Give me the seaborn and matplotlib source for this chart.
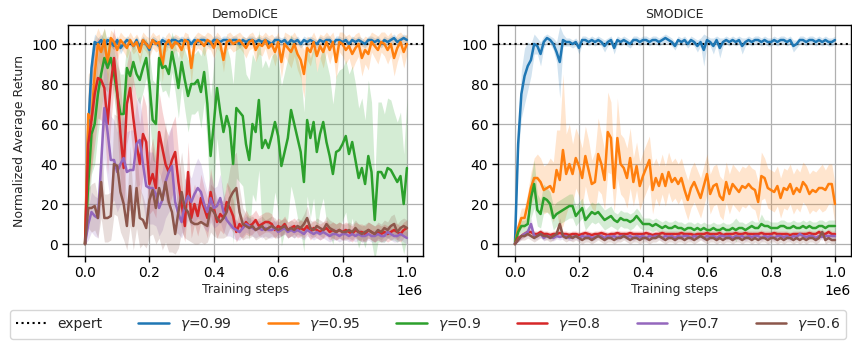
import numpy as np
import pandas as pd
import matplotlib
matplotlib.use("Agg")
import matplotlib.pyplot as plt
import seaborn as sns

# ---------------- data ----------------
steps = np.arange(0, 1_000_001, 10_000)
titles = ["DemoDICE", "SMODICE"]
gammas = ["0.99", "0.95", "0.9", "0.8", "0.7", "0.6"]
expert_level = 100

# DemoDICE means / spreads
demo_g099 = [
    0, 58, 88, 101, 100, 102, 99, 102, 101, 99,
    102, 98, 100, 102, 101, 99, 102, 98, 102, 100,
    97, 102, 101, 99, 102, 101, 100, 102, 102, 101,
    102, 101, 102, 100, 102, 101, 102, 102, 101, 100,
    102, 102, 101, 102, 102, 101, 102, 102, 100, 102,
    101, 102, 102, 101, 102, 101, 102, 101, 100, 102,
    102, 101, 102, 100, 102, 101, 102, 100, 102, 101,
    102, 101, 100, 102, 101, 102, 102, 100, 102, 102,
    101, 102, 100, 102, 101, 102, 101, 100, 102, 102,
    101, 102, 100, 102, 101, 102, 103, 101, 102, 103, 102]
demo_g099_sd = [
    0, 15, 10, 4, 3, 3, 3, 2, 2, 2,
    2, 3, 2, 2, 2, 2, 2, 3, 2, 2,
    3, 2, 2, 2, 2, 2, 2, 2, 2, 2,
    2, 2, 2, 2, 2, 2, 2, 2, 2, 2,
    2, 2, 2, 2, 2, 2, 2, 2, 2, 2,
    2, 2, 2, 2, 2, 2, 2, 2, 2, 2,
    2, 2, 2, 2, 2, 2, 2, 2, 2, 2,
    2, 2, 2, 2, 2, 2, 2, 2, 2, 2,
    2, 2, 2, 2, 2, 2, 2, 2, 2, 2,
    2, 2, 2, 2, 2, 2, 2, 2, 2, 2, 2]
demo_g095 = [
    0, 65, 62, 85, 100, 96, 102, 90, 103, 101,
    97, 102, 100, 98, 102, 99, 101, 96, 102, 100,
    98, 102, 100, 101, 89, 100, 102, 98, 101, 100,
    97, 102, 101, 88, 100, 102, 101, 99, 102, 101,
    98, 102, 100, 92, 101, 102, 100, 101, 102, 100,
    98, 101, 102, 97, 100, 99, 102, 98, 100, 96,
    101, 91, 100, 98, 96, 100, 95, 92, 85, 98,
    96, 101, 94, 99, 96, 101, 97, 101, 91, 101,
    100, 97, 99, 95, 98, 100, 93, 97, 95, 101,
    99, 97, 101, 100, 97, 100, 93, 98, 101, 96, 100]
demo_g095_sd = [
    0, 20, 25, 18, 8, 8, 6, 10, 4, 4,
    5, 4, 4, 5, 4, 4, 4, 6, 4, 4,
    5, 4, 4, 4, 8, 4, 4, 5, 4, 4,
    5, 4, 4, 8, 4, 4, 4, 5, 4, 4,
    5, 4, 4, 6, 4, 4, 4, 4, 4, 4,
    5, 4, 4, 6, 5, 5, 4, 6, 5, 7,
    5, 8, 6, 7, 8, 6, 8, 9, 12, 6,
    7, 5, 8, 6, 8, 5, 7, 5, 9, 5,
    6, 7, 6, 8, 7, 6, 9, 7, 8, 5,
    6, 7, 5, 6, 7, 6, 9, 7, 5, 8, 5]
demo_g090 = [
    0, 30, 55, 60, 75, 85, 93, 88, 93, 85,
    75, 65, 65, 88, 84, 91, 85, 82, 88, 93,
    80, 62, 60, 93, 88, 89, 85, 96, 88, 78,
    91, 82, 74, 80, 80, 82, 76, 86, 70, 44,
    60, 78, 66, 56, 64, 58, 40, 68, 66, 64,
    50, 42, 60, 56, 72, 48, 52, 48, 54, 61,
    54, 39, 46, 53, 67, 60, 53, 46, 31, 62,
    53, 61, 46, 55, 61, 51, 44, 35, 46, 47,
    50, 54, 45, 51, 42, 33, 38, 30, 44, 36,
    12, 36, 36, 33, 38, 37, 34, 31, 34, 20, 38]
demo_g090_sd = [
    0, 15, 20, 20, 20, 18, 15, 12, 10, 12,
    15, 20, 20, 12, 12, 10, 12, 12, 12, 10,
    15, 20, 20, 10, 12, 12, 12, 10, 12, 15,
    12, 15, 18, 15, 15, 15, 18, 15, 20, 30,
    30, 25, 30, 35, 35, 35, 40, 35, 35, 35,
    35, 40, 35, 35, 35, 40, 40, 40, 40, 35,
    38, 40, 40, 40, 38, 38, 40, 40, 35, 38,
    40, 38, 40, 38, 38, 40, 40, 35, 38, 40,
    38, 38, 40, 38, 38, 35, 35, 32, 38, 35,
    20, 35, 35, 32, 35, 35, 32, 30, 32, 25, 35]
demo_g080 = [
    0, 50, 62, 75, 83, 82, 78, 60, 80, 93,
    76, 55, 38, 70, 78, 63, 50, 40, 55, 51,
    30, 35, 28, 56, 48, 40, 36, 42, 46, 31,
    20, 9, 36, 13, 20, 14, 23, 18, 13, 26,
    18, 11, 15, 13, 21, 18, 14, 6, 10, 8,
    11, 9, 10, 12, 9, 10, 11, 11, 10, 7,
    9, 8, 10, 7, 8, 9, 7, 8, 7, 9,
    6, 8, 7, 6, 7, 8, 6, 7, 6, 7,
    6, 7, 6, 5, 7, 6, 6, 5, 7, 6,
    5, 6, 5, 6, 5, 6, 7, 6, 5, 7, 8]
demo_g080_sd = [
    0, 25, 25, 25, 20, 20, 22, 25, 20, 15,
    20, 25, 22, 20, 20, 20, 22, 20, 20, 18,
    15, 18, 15, 20, 18, 18, 18, 18, 18, 15,
    12, 8, 15, 10, 10, 10, 12, 10, 10, 12,
    10, 8, 8, 8, 10, 10, 8, 5, 6, 5,
    6, 5, 5, 5, 5, 5, 5, 5, 5, 4,
    4, 4, 4, 4, 4, 4, 4, 4, 4, 4,
    4, 4, 4, 4, 4, 4, 4, 4, 4, 4,
    4, 4, 4, 4, 4, 4, 4, 4, 4, 4,
    4, 4, 4, 4, 4, 4, 4, 4, 4, 4, 4]
demo_g070 = [
    0, 10, 16, 14, 13, 40, 68, 56, 42, 42,
    36, 40, 43, 36, 37, 37, 50, 52, 40, 29,
    28, 28, 25, 18, 22, 31, 36, 39, 21, 15,
    11, 20, 24, 21, 25, 28, 26, 20, 16, 23,
    18, 19, 23, 16, 12, 10, 8, 7, 6, 8,
    10, 9, 8, 7, 8, 7, 8, 7, 7, 8,
    6, 7, 8, 6, 7, 6, 7, 6, 5, 7,
    6, 5, 6, 5, 6, 5, 4, 5, 5, 4,
    5, 5, 4, 5, 4, 5, 4, 4, 5, 4,
    4, 5, 4, 4, 6, 5, 4, 4, 5, 4, 3]
demo_g070_sd = [
    0, 8, 10, 10, 10, 20, 25, 25, 22, 20,
    20, 20, 22, 20, 20, 20, 22, 22, 20, 18,
    18, 18, 16, 14, 15, 18, 20, 20, 15, 10,
    8, 12, 12, 12, 14, 15, 14, 12, 10, 12,
    10, 10, 12, 10, 8, 6, 5, 5, 4, 4,
    4, 4, 4, 4, 4, 4, 4, 4, 4, 4,
    3, 3, 3, 3, 3, 3, 3, 3, 3, 3,
    3, 3, 3, 3, 3, 3, 3, 3, 3, 3,
    3, 3, 3, 3, 3, 3, 3, 3, 3, 3,
    3, 3, 3, 3, 3, 3, 3, 3, 3, 3, 3]
demo_g060 = [
    0, 18, 18, 19, 13, 31, 13, 13, 14, 40,
    39, 26, 20, 9, 29, 9, 28, 13, 12, 8,
    22, 27, 18, 28, 22, 31, 21, 16, 5, 16,
    26, 18, 16, 11, 10, 10, 11, 10, 9, 18,
    16, 13, 11, 13, 16, 23, 26, 28, 16, 10,
    9, 8, 9, 7, 8, 9, 7, 8, 9, 8,
    7, 8, 9, 7, 8, 7, 9, 8, 10, 13,
    8, 7, 9, 8, 7, 10, 8, 7, 6, 7,
    6, 6, 7, 6, 8, 6, 5, 6, 7, 6,
    5, 7, 6, 8, 7, 9, 10, 6, 8, 9, 8]
demo_g060_sd = [
    0, 10, 12, 12, 10, 18, 12, 12, 12, 25,
    25, 20, 18, 12, 20, 12, 20, 15, 12, 10,
    18, 22, 18, 25, 25, 30, 25, 20, 10, 18,
    20, 15, 14, 10, 10, 10, 10, 10, 8, 12,
    12, 10, 8, 10, 12, 15, 18, 18, 12, 8,
    6, 5, 5, 5, 5, 5, 5, 5, 5, 5,
    4, 4, 4, 4, 4, 4, 4, 4, 5, 6,
    4, 4, 4, 4, 4, 4, 4, 4, 4, 4,
    4, 4, 4, 4, 4, 4, 4, 4, 4, 4,
    4, 4, 4, 4, 4, 5, 5, 4, 4, 4, 4]

# SMODICE means / spreads
smo_g099 = [
    0, 50, 75, 84, 89, 92, 100, 99, 95, 101,
    103, 102, 100, 96, 91, 102, 101, 101, 100, 101,
    98, 102, 102, 101, 102, 101, 102, 101, 99, 101,
    102, 98, 102, 101, 102, 101, 100, 102, 102, 101,
    102, 102, 101, 102, 102, 101, 102, 103, 102, 101,
    99, 102, 101, 102, 100, 102, 101, 99, 101, 97,
    102, 101, 99, 102, 98, 101, 102, 101, 102, 101,
    102, 99, 101, 102, 101, 102, 102, 101, 102, 101,
    101, 102, 101, 102, 102, 101, 102, 99, 100, 102,
    102, 101, 102, 102, 101, 102, 101, 102, 101, 101, 102]
smo_g099_sd = [
    0, 5, 12, 14, 12, 8, 5, 4, 6, 3,
    2, 2, 3, 5, 18, 3, 2, 2, 2, 2,
    3, 2, 2, 2, 2, 2, 2, 2, 3, 2,
    2, 3, 2, 2, 2, 2, 2, 2, 2, 2,
    2, 2, 2, 2, 2, 2, 2, 2, 2, 2,
    2, 2, 2, 2, 2, 2, 2, 3, 2, 8,
    2, 2, 4, 2, 5, 2, 2, 2, 2, 2,
    2, 4, 2, 2, 2, 2, 2, 2, 2, 2,
    2, 2, 2, 2, 2, 2, 2, 3, 2, 2,
    2, 2, 2, 2, 2, 2, 2, 2, 2, 2, 2]
smo_g095 = [
    0, 8, 13, 13, 20, 28, 33, 33, 31, 27,
    28, 29, 26, 37, 32, 47, 35, 40, 35, 43,
    39, 33, 44, 37, 30, 31, 45, 40, 32, 56,
    53, 28, 53, 40, 38, 33, 43, 31, 39, 29,
    34, 38, 42, 27, 33, 29, 35, 29, 36, 31,
    33, 30, 33, 27, 22, 28, 31, 27, 23, 29,
    35, 25, 29, 30, 24, 22, 31, 25, 30, 28,
    26, 29, 28, 30, 28, 27, 21, 34, 33, 28,
    27, 26, 29, 23, 28, 27, 30, 25, 28, 26,
    31, 29, 25, 27, 26, 28, 28, 27, 30, 30, 20]
smo_g095_sd = [
    0, 4, 5, 5, 6, 8, 10, 12, 12, 12,
    12, 14, 15, 20, 25, 38, 20, 20, 15, 15,
    15, 15, 15, 15, 12, 15, 18, 15, 15, 20,
    18, 12, 20, 15, 15, 15, 15, 12, 12, 12,
    12, 12, 12, 12, 10, 10, 10, 10, 10, 10,
    10, 10, 10, 10, 10, 10, 10, 10, 10, 10,
    10, 10, 10, 10, 10, 10, 10, 10, 10, 10,
    10, 10, 10, 10, 10, 10, 10, 12, 10, 10,
    10, 10, 10, 10, 10, 10, 10, 10, 10, 10,
    10, 10, 10, 10, 10, 10, 12, 10, 10, 10, 10]
smo_g090 = [
    0, 6, 9, 9, 10, 23, 30, 17, 15, 23,
    22, 20, 13, 15, 16, 17, 18, 19, 19, 14,
    16, 18, 12, 14, 16, 15, 16, 14, 12, 13,
    14, 12, 11, 13, 12, 12, 11, 12, 14, 12,
    10, 10, 10, 9, 10, 9, 8, 9, 8, 8,
    9, 8, 8, 7, 8, 8, 7, 8, 7, 8,
    7, 7, 8, 7, 7, 8, 7, 7, 8, 7,
    8, 8, 7, 8, 9, 8, 8, 10, 9, 9,
    8, 8, 8, 9, 9, 8, 8, 9, 8, 8,
    9, 8, 9, 8, 8, 9, 9, 8, 9, 9, 9]
smo_g090_sd = [
    0, 2, 3, 3, 5, 10, 12, 8, 7, 7,
    6, 6, 6, 6, 6, 6, 6, 6, 6, 5,
    5, 5, 5, 5, 5, 5, 5, 5, 5, 5,
    5, 4, 4, 4, 4, 4, 4, 4, 4, 4,
    3, 3, 3, 3, 3, 3, 3, 3, 3, 3,
    3, 3, 3, 3, 3, 3, 3, 3, 3, 3,
    3, 3, 3, 3, 3, 3, 3, 3, 3, 6,
    3, 3, 3, 3, 3, 3, 3, 5, 3, 3,
    3, 3, 3, 3, 3, 3, 3, 3, 3, 3,
    3, 3, 3, 3, 3, 3, 3, 3, 3, 3, 3]
smo_g080 = [
    0, 3, 4, 5, 6, 6, 5, 5, 6, 5,
    5, 4.5, 5, 5, 5.5, 5, 5, 4.5, 5, 5,
    4.5, 5, 5.5, 5, 4.5, 5, 5, 5.5, 5, 4.5,
    5, 5, 5.5, 5, 5, 5, 5.5, 5, 5, 5,
    5, 5.5, 5, 4.5, 5, 5, 5.5, 5, 5, 5,
    5, 5, 5.5, 5, 5, 5, 4.5, 5, 5, 5,
    5.5, 5, 5, 5, 5.5, 4.5, 5, 5, 5, 5.5,
    5, 5, 5.5, 5, 5, 5, 5, 5.5, 5, 5,
    5, 5.5, 5, 5, 5, 5, 4.5, 5, 5, 5,
    5, 5, 5.5, 5, 5, 6, 5, 5, 6, 5, 5]
smo_g080_sd = [
    0, 1, 1.5, 1.5, 1.5, 1.5, 1.5, 1.5, 1.5, 1.5,
    1.5, 1.5, 1.5, 1.5, 1.5, 1.5, 1.5, 1.5, 1.5, 1.5,
    1.5, 1.5, 1.5, 1.5, 1.5, 1.5, 1.5, 1.5, 1.5, 1.5,
    1.5, 1.5, 1.5, 1.5, 1.5, 1.5, 1.5, 1.5, 1.5, 1.5,
    1.5, 1.5, 1.5, 1.5, 1.5, 1.5, 1.5, 1.5, 1.5, 1.5,
    1.5, 1.5, 1.5, 1.5, 1.5, 1.5, 1.5, 1.5, 1.5, 1.5,
    1.5, 1.5, 1.5, 1.5, 1.5, 1.5, 1.5, 1.5, 1.5, 1.5,
    1.5, 1.5, 1.5, 1.5, 1.5, 1.5, 1.5, 1.5, 1.5, 1.5,
    1.5, 1.5, 1.5, 1.5, 1.5, 1.5, 1.5, 1.5, 1.5, 1.5,
    1.5, 1.5, 1.5, 1.5, 1.5, 1.5, 1.5, 1.5, 1.5, 1.5, 1.5]
smo_g070 = [
    0, 2, 4, 5, 6, 10, 4, 4, 5, 3,
    4, 3.5, 3, 4, 3.5, 4, 4, 3, 3.5, 4,
    3, 4, 3.5, 4, 3, 3.5, 4, 4, 3, 4,
    3.5, 4, 3, 4, 4, 3.5, 4, 3, 4, 3.5,
    4, 3, 4, 3.5, 4, 4, 3, 4, 3.5, 4,
    3, 4, 3.5, 4, 4, 3, 4, 3.5, 4, 3,
    4, 3.5, 4, 3, 4, 4, 3.5, 4, 3, 4,
    3.5, 4, 3, 4, 3.5, 4, 4, 3, 4, 3.5,
    4, 3, 4, 4, 3.5, 4, 3, 4, 3.5, 5,
    4, 3.5, 4, 4, 3, 4, 3.5, 4, 4, 4, 4]
smo_g070_sd = [
    0, 1, 1.5, 1.5, 2, 3, 2, 1.5, 1.5, 1.5,
    1.5, 1.5, 1.5, 1.5, 1.5, 1.5, 1.5, 1.5, 1.5, 1.5,
    1.5, 1.5, 1.5, 1.5, 1.5, 1.5, 1.5, 1.5, 1.5, 1.5,
    1.5, 1.5, 1.5, 1.5, 1.5, 1.5, 1.5, 1.5, 1.5, 1.5,
    1.5, 1.5, 1.5, 1.5, 1.5, 1.5, 1.5, 1.5, 1.5, 1.5,
    1.5, 1.5, 1.5, 1.5, 1.5, 1.5, 1.5, 1.5, 1.5, 1.5,
    1.5, 1.5, 1.5, 1.5, 1.5, 1.5, 1.5, 1.5, 1.5, 1.5,
    1.5, 1.5, 1.5, 1.5, 1.5, 1.5, 1.5, 1.5, 1.5, 1.5,
    1.5, 1.5, 1.5, 1.5, 1.5, 1.5, 1.5, 1.5, 1.5, 1.5,
    1.5, 1.5, 1.5, 1.5, 1.5, 1.5, 1.5, 1.5, 1.5, 1.5, 1.5]
smo_g060 = [
    0, 2, 4, 4, 5, 4, 3, 4, 5, 4,
    4, 3, 4, 5, 10, 4, 3, 4, 3, 4,
    3, 2, 3, 3, 2, 3, 4, 3, 2, 3,
    3, 2, 3, 3, 4, 3, 2, 3, 3, 2,
    3, 3, 2, 3, 3, 4, 3, 2, 3, 3,
    2, 3, 3, 2, 3, 3, 2, 3, 4, 3,
    2, 3, 3, 2, 3, 2, 3, 3, 2, 3,
    3, 2, 3, 3, 2, 3, 2, 3, 3, 2,
    3, 3, 2, 3, 2, 3, 3, 2, 3, 2,
    3, 2, 3, 3, 2, 3, 6, 2, 3, 2, 2]
smo_g060_sd = [
    0, 1, 2, 2, 2, 2, 2, 2, 2, 2,
    2, 2, 2, 2, 3, 2, 2, 2, 2, 2,
    2, 2, 2, 2, 2, 2, 2, 2, 2, 2,
    2, 2, 2, 2, 2, 2, 2, 2, 2, 2,
    2, 2, 2, 2, 2, 2, 2, 2, 2, 2,
    2, 2, 2, 2, 2, 2, 2, 2, 2, 2,
    2, 2, 2, 2, 2, 2, 2, 2, 2, 2,
    2, 2, 2, 2, 2, 2, 2, 2, 2, 2,
    2, 2, 2, 2, 2, 2, 2, 2, 2, 2,
    2, 2, 2, 2, 2, 2, 2, 2, 2, 2, 2]

panels = {
    "DemoDICE": [(demo_g099, demo_g099_sd), (demo_g095, demo_g095_sd),
                 (demo_g090, demo_g090_sd), (demo_g080, demo_g080_sd),
                 (demo_g070, demo_g070_sd), (demo_g060, demo_g060_sd)],
    "SMODICE": [(smo_g099, smo_g099_sd), (smo_g095, smo_g095_sd),
                (smo_g090, smo_g090_sd), (smo_g080, smo_g080_sd),
                (smo_g070, smo_g070_sd), (smo_g060, smo_g060_sd)],
}

# ---------------- style ----------------
sns.set_theme(style="ticks", rc={
    "axes.grid": True, "grid.color": "#b0b0b0", "grid.linewidth": 0.9,
    "axes.edgecolor": "black", "axes.linewidth": 1.0,
    "xtick.color": "black", "ytick.color": "black",
})
plt.rcParams["font.family"] = ["DejaVu Sans"]
colors = sns.color_palette("tab10", 6)

fig = plt.figure(figsize=(8.52, 3.43), dpi=100)
ax_pos = [[0.0798, 0.2536, 0.4167, 0.6735], [0.5845, 0.2536, 0.4143, 0.6735]]
axes = [fig.add_axes(p) for p in ax_pos]

for ax, title in zip(axes, titles):
    ax.axhline(expert_level, color="black", ls=":", lw=1.5, label="expert", zorder=3)
    for (mean, sd), g, c in zip(panels[title], gammas, colors):
        assert len(mean) == len(steps) and len(sd) == len(steps)
        m = np.asarray(mean, float)
        s = np.asarray(sd, float)
        df = pd.DataFrame({"step": steps, "ret": m})
        sns.lineplot(data=df, x="step", y="ret", color=c, lw=1.8, ax=ax,
                     label=rf"$\gamma$={g}", zorder=4)
        ax.fill_between(steps, m - s, m + s, color=c, alpha=0.2, lw=0, zorder=2)
    ax.set_title(title, fontsize=9, pad=5)
    ax.set_xlabel("Training steps", fontsize=9, labelpad=2)
    ax.set_ylabel("")
    ax.set_xlim(-0.053e6, 1.05e6)
    ax.set_ylim(-6, 109.5)
    ax.set_yticks([0, 20, 40, 60, 80, 100])
    ax.tick_params(labelsize=10, length=4, width=1, pad=3)
    ax.xaxis.get_offset_text().set_fontsize(10)
    ax.grid(True, color="#b0b0b0", lw=0.9)
    leg = ax.get_legend()
    if leg is not None:
        leg.remove()

axes[0].set_ylabel("Normalized Average Return", fontsize=9, labelpad=4)

handles, labels = axes[0].get_legend_handles_labels()
fig.legend(handles, labels, loc="lower left", ncol=7, mode="expand",
           bbox_to_anchor=(0.009, 0.005, 0.987, 0.09), fontsize=10,
           frameon=True, edgecolor="0.8", handlelength=2.2, borderaxespad=0.2)

fig.savefig("out.png", dpi=100)
